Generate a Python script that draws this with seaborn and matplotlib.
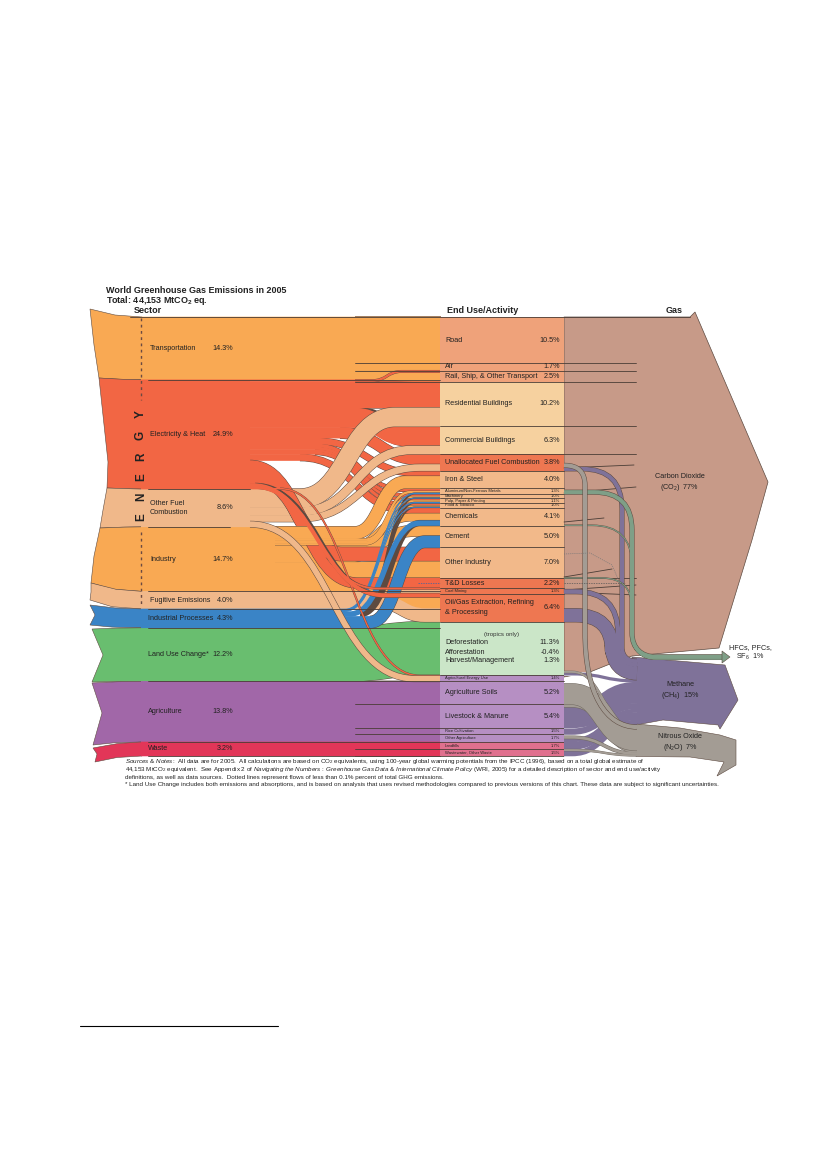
import matplotlib
matplotlib.use('Agg')
import matplotlib.pyplot as plt
from matplotlib.path import Path
from matplotlib.patches import PathPatch
import pandas as pd
import seaborn as sns

# data: shares of world GHG emissions in percent
sector_keys = ['tr', 'el', 'of', 'in', 'fu', 'pr', 'lu', 'ag', 'wa']
sector_names = ['Transportation', 'Electricity & Heat', 'Other Fuel\nCombustion', 'Industry', 'Fugitive Emissions',
                'Industrial Processes', 'Land Use Change*', 'Agriculture', 'Waste']
sector_values = [14.3, 24.9, 8.6, 14.7, 4.0, 4.3, 12.2, 13.8, 3.2]

end_keys = ['road', 'air', 'rail', 'res', 'comm', 'unal', 'iron', 'alum', 'mach', 'pulp', 'food', 'chem', 'cement',
            'other', 'td', 'coal', 'oil', 'luc', 'ageng', 'soils', 'live', 'rice', 'oag', 'land', 'waste']
end_names = ['Road', 'Air', 'Rail, Ship, & Other Transport', 'Residential Buildings', 'Commercial Buildings',
             'Unallocated Fuel Combustion', 'Iron & Steel', 'Aluminum/Non-Ferrous Metals', 'Machinery',
             'Pulp, Paper & Printing', 'Food & Tobacco', 'Chemicals', 'Cement', 'Other Industry', 'T&D Losses',
             'Coal Mining', 'Oil/Gas Extraction, Refining\n& Processing', '', 'Agricultural Energy Use',
             'Agriculture Soils', 'Livestock & Manure', 'Rice Cultivation', 'Other Agriculture', 'Landfills',
             'Wastewater, Other Waste']
end_values = [10.5, 1.7, 2.5, 10.2, 6.3, 3.8, 4.0, 1.3, 1.0, 1.1, 1.0, 4.1, 5.0, 7.0, 2.2, 1.3, 6.4, 12.2, 1.4,
              5.2, 5.4, 1.5, 1.7, 1.7, 1.5]

luc_names = ['Deforestation', 'Afforestation', 'Harvest/Management']
luc_values = [11.3, -0.4, 1.3]

gas_keys = ['co2', 'hfc', 'ch4', 'n2o']
gas_values = [77, 1, 15, 7]

flow_source = ['tr'] * 3 + ['el'] * 15 + ['of'] * 4 + ['in'] * 9 + ['fu'] * 2 + ['pr'] * 6 + ['lu'] + ['ag'] * 4 + ['wa'] * 2
flow_target = ['road', 'air', 'rail',
               'rail', 'res', 'comm', 'unal', 'iron', 'alum', 'mach', 'pulp', 'food', 'chem', 'other', 'td', 'coal', 'oil', 'ageng',
               'res', 'comm', 'unal', 'ageng',
               'iron', 'alum', 'mach', 'pulp', 'food', 'chem', 'cement', 'other', 'oil',
               'coal', 'oil',
               'alum', 'mach', 'pulp', 'food', 'chem', 'cement',
               'luc',
               'soils', 'live', 'rice', 'oag',
               'land', 'waste']
flow_value = [10.5, 1.7, 2.1,
              0.4, 6.0, 4.5, 2.4, 1.3, 0.7, 0.6, 0.5, 0.6, 1.4, 3.0, 2.2, 0.3, 0.8, 0.2,
              4.2, 1.8, 1.4, 1.2,
              2.7, 0.4, 0.3, 0.4, 0.3, 1.6, 2.4, 4.0, 2.6,
              1.0, 3.0,
              0.2, 0.1, 0.2, 0.1, 1.1, 2.6,
              12.2,
              5.2, 5.4, 1.5, 1.7,
              1.7, 1.5]

gas_source = ['alum', 'chem', 'other',
              'unal', 'coal', 'oil', 'luc', 'live', 'rice', 'oag', 'land', 'waste',
              'unal', 'luc', 'soils', 'live', 'oag', 'waste']
gas_target = ['hfc'] * 3 + ['ch4'] * 9 + ['n2o'] * 6
gas_value = [0.8, 0.1, 0.1,
             0.8, 0.9, 2.9, 0.6, 4.8, 1.3, 0.8, 1.7, 1.2,
             0.8, 0.3, 4.6, 0.5, 0.5, 0.3]

# layout: page pixels, one row per flow: line start, bend start, bend end, draw order
flow_layout = [(355, 380, 420, 1), (355, 380, 420, 1), (355, 380, 420, 1),
               (355, 372, 402, 5), (362, 365, 395, 1), (358, 352, 410, 1), (340, 340, 420, 1), (315, 315, 420, 1),
               (315, 315, 405, 1), (315, 315, 405, 1), (315, 315, 405, 1), (315, 315, 405, 1), (300, 300, 410, 1),
               (250, 250, 342, 4), (250, 252, 358, 4), (255, 252, 378, 8), (255, 252, 385, 8), (280, 280, 420, 8),
               (250, 300, 395, 2), (250, 300, 412, 2), (250, 300, 420, 2), (250, 250, 415, 9),
               (275, 355, 405, 6), (275, 365, 410, 6), (275, 365, 410, 6), (275, 365, 410, 6), (275, 365, 410, 6),
               (275, 345, 412, 3), (275, 345, 415, 3), (275, 345, 420, 3), (275, 380, 420, 3),
               (300, 380, 425, 3), (300, 380, 425, 3),
               (360, 345, 415, 7), (360, 345, 415, 7), (360, 345, 415, 7), (360, 345, 415, 7),
               (360, 350, 420, 7), (370, 370, 425, 7),
               (340, 340, 430, 0),
               (355, 380, 420, 0), (355, 380, 420, 0), (355, 380, 420, 0), (355, 380, 420, 0),
               (355, 380, 420, 0), (355, 380, 420, 0)]

# one row per gas flow: vertical run x (None = plain bend), top radius, bottom radius, draw order
gas_layout = [(632, 38, 24, 5), (632, 40, 24, 5), (632, 30, 24, 5),
              (622, 40, 14, 4), (618, 42, 20, 4), (612, 36, 28, 4), (None, 0, 0, 1), (None, 0, 0, 1), (None, 0, 0, 1),
              (None, 0, 0, 1), (None, 0, 0, 1), (None, 0, 0, 1),
              (585, 20, 95, 6), (None, 0, 0, 3), (None, 0, 0, 3), (None, 0, 0, 2), (None, 0, 0, 2), (None, 0, 0, 2)]

sector_colors = dict(zip(sector_keys, sns.color_palette(
    ['#f9a953', '#f26644', '#f0b88a', '#f9a953', '#f0b88a', '#3a84c6', '#69be6f', '#a167a8', '#e23658'])))
end_colors = ['#efa27a'] * 3 + ['#f6d19f'] * 2 + ['#ee7751'] + ['#f2b98a'] * 8 + ['#ee7751'] * 3 + ['#cbe6c8'] + \
             ['#b68fc3'] * 5 + ['#e0708e'] * 2
gas_colors = {'co2': '#c79a88', 'hfc': '#7f9f87', 'ch4': '#7f7299', 'n2o': '#a39c94'}

# sector tails in page pixels: top corner, notch, bottom corner
tails = {'tr': [(90, 309), (94, 345), (99, 378)], 'el': [(99, 378), (108, 462), (107, 488)],
         'of': [(107, 488), (103, 510), (100, 528)], 'in': [(100, 528), (94, 556), (91, 583)],
         'fu': [(91, 583), (91, 592), (90, 600)], 'pr': [(90, 605), (95, 615), (90, 625)],
         'lu': [(92, 629), (103, 655), (92, 682)], 'ag': [(92, 683), (102, 713), (93, 745)],
         'wa': [(93, 748), (97, 754), (95, 762)]}

TOP_PX = 317
PX_PER_PCT = 4.39
EDGE = '#5d4a40'
X_SECTOR, X_END, X_GAS = 141, 440, 564

sns.set_theme(style='white')
plt.rcParams['font.family'] = ['Liberation Sans', 'DejaVu Sans']
plt.rcParams['mathtext.fontset'] = 'custom'
plt.rcParams['mathtext.rm'] = 'Liberation Sans'
plt.rcParams['mathtext.it'] = 'Liberation Sans:italic'
plt.rcParams['mathtext.bf'] = 'Liberation Sans:bold'

fig = plt.figure(figsize=(8.27, 11.69), dpi=100, facecolor='white')
ax = fig.add_axes([0, 0, 1, 1])


def sh(px):
    # page pixel row to share axis
    return (px - TOP_PX) / PX_PER_PCT


def stack(values):
    tops, run = [], 0
    for v in values:
        tops.append(run)
        run += v
    return tops


sector_top = dict(zip(sector_keys, stack(sector_values)))
sector_size = dict(zip(sector_keys, sector_values))
end_top = dict(zip(end_keys, stack(end_values)))
end_size = dict(zip(end_keys, end_values))
gas_top = dict(zip(gas_keys, stack(gas_values)))

flows = pd.DataFrame({'source': flow_source, 'target': flow_target, 'value': flow_value})
flows[['x_line', 'x_a', 'x_b', 'z']] = flow_layout
flows['y0'] = flows.groupby('source', sort=False)['value'].cumsum() - flows['value'] + flows['source'].map(sector_top)
# the thin rail flow from electricity enters on top of the rail block
flows['rank'] = flows['source'].map(sector_keys.index)
flows.loc[(flows['source'] == 'el') & (flows['target'] == 'rail'), 'rank'] = -1
ordered = flows.sort_values('rank', kind='stable')
flows['y1'] = (ordered.groupby('target', sort=False)['value'].cumsum() - ordered['value'] + ordered['target'].map(end_top))
flows['y0'] += flows['value'] / 2
flows['y1'] += flows['value'] / 2


def width_pt(value):
    return value * PX_PER_PCT * 72 / 100


def band_path(x0, y0, xa, xb, y1, x1):
    mid = (xa + xb) / 2
    verts = [(x0, y0), (xa, y0), (mid, y0), (mid, y1), (xb, y1), (x1, y1)]
    return Path(verts, [Path.MOVETO, Path.LINETO, Path.CURVE4, Path.CURVE4, Path.CURVE4, Path.LINETO])


def elbow_path(x0, y0, xv, r1, r2, y1, x1):
    y0p, y1p = TOP_PX + y0 * PX_PER_PCT, TOP_PX + y1 * PX_PER_PCT
    x_flat = min(x1, xv + r2)
    verts = [(x0, y0p), (xv - r1, y0p), (xv, y0p), (xv, y0p + r1), (xv, y1p - r2), (xv, y1p - r2 * 0.35),
             (xv + (x_flat - xv) * 0.4, y1p), (x_flat, y1p), (x1, y1p)]
    codes = [Path.MOVETO, Path.LINETO, Path.CURVE3, Path.CURVE3, Path.LINETO, Path.CURVE4, Path.CURVE4, Path.CURVE4,
             Path.LINETO]
    return Path([(x, sh(y)) for x, y in verts], codes)


def draw_band(path, value, color, z, edge=EDGE, outline=None):
    lw = width_pt(value)
    extra = 0.85 if value < 0.5 else 1.1
    if edge is not None:
        ax.add_patch(PathPatch(outline if outline is not None else path, fc='none', ec=edge, lw=lw + extra,
                               capstyle='butt', joinstyle='round', zorder=z))
    ax.add_patch(PathPatch(path, fc='none', ec=color, lw=lw + 0.4, capstyle='butt', joinstyle='round', zorder=z + 0.01))


# sector tails and the solid part of each band
for key in sector_keys:
    top, size = sector_top[key], sector_size[key]
    a, b, c = tails[key]
    poly = [(a[0], sh(a[1])), (b[0], sh(b[1])), (c[0], sh(c[1])),
            (c[0] + 22, top + size + (sh(c[1]) - top - size) * 0.25), (X_SECTOR + 1, top + size),
            (X_SECTOR + 1, top), (a[0] + 25, top + (sh(a[1]) - top) * 0.25)]
    ax.fill(*zip(*poly), color=sector_colors[key], ec=EDGE, lw=0.4, zorder=1)
    x_end = flows.loc[flows['source'] == key, 'x_a'].min()
    ax.fill([X_SECTOR, x_end, x_end, X_SECTOR], [top, top, top + size, top + size], color=sector_colors[key], lw=0, zorder=1)

for row in flows.sort_values('z', kind='stable').itertuples():
    color = sector_colors[row.source]
    xa = max(row.x_a, row.x_line)
    draw_band(band_path(X_SECTOR, row.y0, row.x_a, row.x_b, row.y1, X_END + 1), row.value, color, 2 + row.z * 0.1,
              outline=band_path(row.x_line, row.y0, xa, row.x_b, row.y1, X_END + 1))

# end use blocks
ax.barh([end_top[k] + end_size[k] / 2 for k in end_keys], [X_GAS - X_END] * len(end_keys), left=X_END,
        height=end_values, color=end_colors, lw=0, zorder=4)

# gas shapes
co2_poly = [(X_GAS, 0), (690, 0), (695, sh(312)), (768, sh(482)), (752, sh(540)), (719, sh(648)), (632, sh(656)),
            (610, sh(664)), (590, sh(672)), (X_GAS, sh(677))]
ch4_poly = [(632, sh(657)), (725, sh(665)), (738, sh(700)), (720, sh(729)), (718, sh(725)), (663, sh(720)), (636, sh(725))]
n2o_poly = [(636, sh(724)), (680, sh(728)), (720, sh(735)), (736, sh(740)), (736, sh(765)), (717, sh(776)), (724, sh(762)),
            (690, sh(757)), (636, sh(756.5))]
hfc_head = [(722, sh(651)), (730, sh(657)), (722, sh(663))]
ax.fill(*zip(*co2_poly), color=gas_colors['co2'], ec=EDGE, lw=0.5, zorder=3.5)
ax.fill(*zip(*ch4_poly), color=gas_colors['ch4'], ec=EDGE, lw=0.4, zorder=5)
ax.fill(*zip(*n2o_poly), color=gas_colors['n2o'], ec=EDGE, lw=0.4, zorder=5)
ax.fill(*zip(*hfc_head), color=gas_colors['hfc'], ec=EDGE, lw=0.4, zorder=7)

# gas flows leave from the bottom of their block and stack on the gas column
used = {}
filled = {}
gas_rows = []
for src, tgt, val, lay in zip(gas_source, gas_target, gas_value, gas_layout):
    used[src] = used.get(src, 0) + val
    filled[tgt] = filled.get(tgt, 0) + val
    y0 = end_top[src] + end_size[src] - used[src] + val / 2
    y1 = gas_top[tgt] + filled[tgt] - val / 2
    gas_rows.append((src, tgt, val, y0, y1, lay))

for src, tgt, val, y0, y1, (xv, r1, r2, order) in sorted(gas_rows, key=lambda r: r[5][3]):
    z = 5 + order * 0.1
    if xv is None:
        path = band_path(X_GAS, y0, X_GAS + 8, 636, y1, 637)
        edge = 'white' if tgt == 'ch4' else '#6f675f'
    else:
        path = elbow_path(X_GAS, y0, xv, r1, r2, y1, 725 if tgt == 'hfc' else 637)
        edge = EDGE
    draw_band(path, val, gas_colors[tgt], z, edge=edge)

# dark dividers
long_left = ['road', 'air', 'rail', 'soils', 'live', 'rice', 'land']
long_right = ['road', 'air', 'rail', 'res', 'comm']
rows = []
for i, key in enumerate(end_keys):
    y = end_top[key] + end_size[key]
    x0 = 355 if key in long_left else X_END
    x1 = 636 if key in long_right else X_GAS
    rows += [(f'end{i}', x0, y), (f'end{i}', x1, y)]
for i, key in enumerate(sector_keys):
    y = sector_top[key] + sector_size[key]
    x1 = [X_END, 250, 230, X_END, X_END, X_END, X_END, X_END, X_END][i]
    rows += [(f'sec{i}', 148, y), (f'sec{i}', x1, y)]
rows += [('top', 130, 0), ('top', 690, 0)]
# short lines across the carbon dioxide field
for j, (xa, pa, xb, pb) in enumerate([(X_GAS, 468, 634, 465), (X_GAS, 493, 636, 487), (X_GAS, 522, 604, 518),
                                      (X_GAS, 577, 612, 569), (X_GAS, 578, 636, 578), (X_GAS, 590, 636, 585),
                                      (X_GAS, 592, 636, 595)]):
    rows += [(f'co2{j}', xa, sh(pa)), (f'co2{j}', xb, sh(pb))]
dividers = pd.DataFrame(rows, columns=['line', 'x', 'y'])
sns.lineplot(data=dividers, x='x', y='y', units='line', estimator=None, sort=False, color='#4a3d36', lw=0.6,
             legend=False, ax=ax, zorder=4.6)

# dotted flows
ax.plot([X_GAS, 625], [sh(582.5), sh(582.5)], color='#555555', lw=0.5, ls=(0, (2, 1.5)), zorder=6)
ax.plot([X_GAS, 590, 612, 622], [sh(554), sh(553), sh(565), sh(588)], color='#777777', lw=0.5, ls=(0, (1.5, 1.5)), zorder=6)
ax.plot([418, X_END], [sh(582.5), sh(582.5)], color='#3a64a6', lw=0.5, ls=(0, (2, 1.5)), zorder=6)

# ENERGY bracket
ax.plot([X_SECTOR, X_SECTOR], [sh(318), sh(400)], color='#6b4a42', lw=1.0, ls=(0, (2, 2.5)), zorder=7)
ax.plot([X_SECTOR, X_SECTOR], [sh(532), sh(605)], color='#6b4a42', lw=1.0, ls=(0, (2, 2.5)), zorder=7)
for letter, px in zip('ENERGY', [517, 497, 477, 457, 435, 414]):
    ax.text(X_SECTOR, sh(px), letter, rotation=90, ha='center', va='center', fontsize=8.5, fontweight='bold',
            color='#222222', zorder=8)

# text
for i, key in enumerate(sector_keys):
    y = sector_top[key] + sector_size[key] / 2
    x_name = 148 if key in ('pr', 'lu', 'ag', 'wa') else 150
    ax.text(x_name, y, sector_names[i], fontsize=5.2, va='center', color='#222222', zorder=8, linespacing=1.35)
    ax.text(233, y, f'{sector_values[i]}%', fontsize=5.2, va='center', ha='right', color='#222222', zorder=8)

tiny = ['alum', 'mach', 'pulp', 'food', 'coal', 'ageng', 'rice', 'oag', 'land', 'waste']
for i, key in enumerate(end_keys):
    if key == 'luc':
        continue
    y = end_top[key] + end_size[key] / 2
    size = 3.0 if key in tiny else 5.2
    ax.text(445, y, end_names[i], fontsize=size, va='center', color='#222222', zorder=8, linespacing=1.5)
    ax.text(560, y, f'{end_values[i]}%', fontsize=size, va='center', ha='right', color='#222222', zorder=8)
ax.text(502, sh(634), '(tropics only)', fontsize=4.4, ha='center', va='center', color='#333333', zorder=8)
for name, val, px in zip(luc_names, luc_values, [642.5, 652, 660.5]):
    ax.text(445, sh(px), name, fontsize=5.2, va='center', color='#222222', zorder=8)
    ax.text(560, sh(px), f'{val}%', fontsize=5.2, va='center', ha='right', color='#222222', zorder=8)

ax.text(680, sh(483), 'Carbon Dioxide\n(CO$_2$)  77%', fontsize=5.2, ha='center', va='center', color='#222222', zorder=8)
ax.text(680, sh(691), 'Methane\n(CH$_4$)  15%', fontsize=5.2, ha='center', va='center', color='#222222', zorder=8)
ax.text(680, sh(743), 'Nitrous Oxide\n(N$_2$O)  7%', fontsize=5.2, ha='center', va='center', color='#222222', zorder=8)
ax.text(750, sh(653), 'HFCs, PFCs,\nSF$_6$  1%', fontsize=5.2, ha='center', va='center', color='#222222', zorder=8)

ax.text(106, sh(290), 'World Greenhouse Gas Emissions in 2005', fontsize=6.5, fontweight='bold', va='center', color='#222222')
ax.text(106, sh(300), r'Total: 44,153 MtCO$_\mathbf{2}$ eq.', fontsize=6.5, fontweight='bold', va='center', color='#222222')
ax.text(134, sh(310.5), 'Sector', fontsize=6.5, fontweight='bold', va='center', color='#222222')
ax.text(447, sh(310.5), 'End Use/Activity', fontsize=6.5, fontweight='bold', va='center', color='#222222')
ax.text(666, sh(310.5), 'Gas', fontsize=6.5, fontweight='bold', va='center', color='#222222')

notes = [r'$\mathit{Sources\ &\ Notes:}$ All data are for 2005.  All calculations are based on CO$_2$ equivalents, using 100-year global warming potentials from the IPCC (1996), based on a total global estimate of',
         r'44,153 MtCO$_2$ equivalent.  See Appendix 2 of $\mathit{Navigating\ the\ Numbers:\ Greenhouse\ Gas\ Data\ &\ International\ Climate\ Policy}$ (WRI, 2005) for a detailed description of sector and end use/activity',
         'definitions, as well as data sources.  Dotted lines represent flows of less than 0.1% percent of total GHG emissions.',
         '* Land Use Change includes both emissions and absorptions, and is based on analysis that uses revised methodologies compared to previous versions of this chart. These data are subject to significant uncertainties.']
for line, px in zip(notes, [761, 769, 777, 784.5]):
    ax.text(125, sh(px), line, fontsize=4.5, va='center', color='#222222', zorder=8)

# footnote rule at the bottom of the page
ax.plot([80, 278], [sh(1026), sh(1026)], color='black', lw=0.8)

ax.set_xlim(0, 827)
ax.set_ylim(sh(1169), sh(0))
ax.set_axis_off()
fig.savefig('out.png', dpi=100, facecolor='white')
